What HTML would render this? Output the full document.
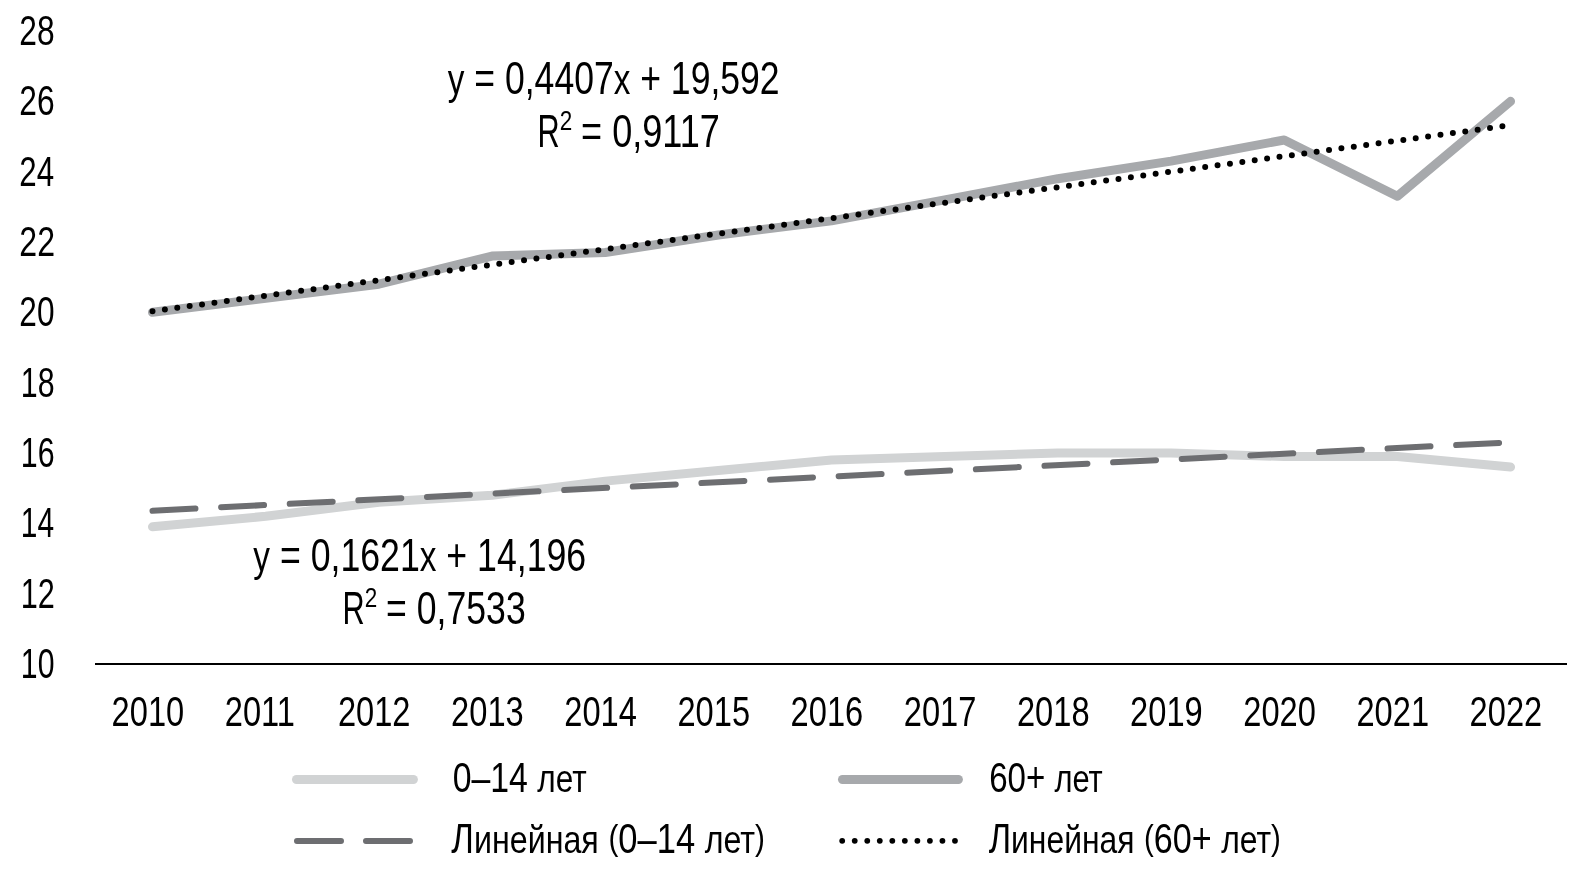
<!DOCTYPE html>
<html lang="ru"><head><meta charset="utf-8"><title>Доля возрастных групп, 2010–2022</title>
<style>html,body{margin:0;padding:0;background:#fff;width:1588px;height:896px;overflow:hidden}
svg{display:block;will-change:transform} text{font-family:"Liberation Sans",Arial,sans-serif;fill:#000}</style></head>
<body><svg width="1588" height="896" viewBox="0 0 1588 896">
<rect width="1588" height="896" fill="#fff"/>
<rect x="95" y="663" width="1472" height="2" fill="#000"/>
<path d="M152.50,526.85 L265.67,516.30 L378.84,502.23 L492.01,495.20 L605.18,481.13 L718.35,470.58 L831.52,460.03 L944.69,456.52 L1057.86,453.00 L1171.03,453.00 L1284.20,456.52 L1397.37,456.52 L1510.54,467.07" fill="none" stroke="#D1D3D4" stroke-width="9" stroke-linecap="round" stroke-linejoin="round"/>
<path d="M152.50,312.33 L265.67,298.27 L378.84,284.20 L492.01,256.07 L605.18,252.55 L718.35,234.97 L831.52,220.90 L944.69,199.80 L1057.86,178.70 L1171.03,161.12 L1284.20,140.02 L1397.37,196.28 L1510.54,101.33" fill="none" stroke="#A7A9AC" stroke-width="9" stroke-linecap="round" stroke-linejoin="round"/>
<line x1="152.50" y1="510.74" x2="1510.54" y2="442.33" stroke="#6D6E71" stroke-width="6" stroke-dasharray="43 25.7" stroke-linecap="round"/>
<line x1="152.50" y1="311.18" x2="1510.54" y2="125.21" stroke="#000" stroke-width="6" stroke-dasharray="0 12.5" stroke-linecap="round"/>
<line x1="296.5" y1="779.5" x2="413.4" y2="779.5" stroke="#D1D3D4" stroke-width="9" stroke-linecap="round"/>
<line x1="842.5" y1="779.5" x2="958.4" y2="779.5" stroke="#A7A9AC" stroke-width="9" stroke-linecap="round"/>
<path d="M297,841H341M366,841H410" stroke="#6D6E71" stroke-width="6" stroke-linecap="round"/>
<g fill="#000"><circle cx="842.20" cy="840.8" r="2.9"/><circle cx="854.73" cy="840.8" r="2.9"/><circle cx="867.26" cy="840.8" r="2.9"/><circle cx="879.79" cy="840.8" r="2.9"/><circle cx="892.32" cy="840.8" r="2.9"/><circle cx="904.85" cy="840.8" r="2.9"/><circle cx="917.38" cy="840.8" r="2.9"/><circle cx="929.91" cy="840.8" r="2.9"/><circle cx="942.44" cy="840.8" r="2.9"/><circle cx="954.97" cy="840.8" r="2.9"/></g>
<text transform="matrix(0.7599 0 0 1 19.31 45.00)" font-size="41.8">28</text>
<text transform="matrix(0.7599 0 0 1 19.31 115.00)" font-size="41.8">26</text>
<text transform="matrix(0.7489 0 0 1 19.33 186.00)" font-size="41.8">24</text>
<text transform="matrix(0.7674 0 0 1 19.30 256.00)" font-size="41.8">22</text>
<text transform="matrix(0.7562 0 0 1 19.32 326.00)" font-size="41.8">20</text>
<text transform="matrix(0.7261 0 0 1 20.82 397.00)" font-size="41.8">18</text>
<text transform="matrix(0.7261 0 0 1 20.82 467.00)" font-size="41.8">16</text>
<text transform="matrix(0.7153 0 0 1 20.86 537.00)" font-size="41.8">14</text>
<text transform="matrix(0.7335 0 0 1 20.80 608.00)" font-size="41.8">12</text>
<text transform="matrix(0.7225 0 0 1 20.84 678.00)" font-size="41.8">10</text>
<text transform="matrix(0.7730 0 0 1 447.82 94.00)" font-size="46"><tspan font-size="93.5%">y</tspan> = 0,4407<tspan font-size="93.5%">x</tspan> + 19,592</text>
<text transform="matrix(0.6680 0 0 1 537.48 147.00)" font-size="46">R</text>
<text transform="matrix(0.8176 0 0 1 559.82 130.00)" font-size="27.5">2</text>
<text transform="matrix(0.7845 0 0 1 581.10 147.00)" font-size="46">= 0,9117</text>
<text transform="matrix(0.7756 0 0 1 253.32 571.00)" font-size="46"><tspan font-size="93.5%">y</tspan> = 0,1621<tspan font-size="93.5%">x</tspan> + 14,196</text>
<text transform="matrix(0.6680 0 0 1 342.48 624.00)" font-size="46">R</text>
<text transform="matrix(0.8176 0 0 1 364.82 607.00)" font-size="27.5">2</text>
<text transform="matrix(0.7741 0 0 1 386.12 624.00)" font-size="46">= 0,7533</text>
<text transform="matrix(0.8093 0 0 1 452.65 792.00)" font-size="41.8">0–14 <tspan font-size="93.3%">лет</tspan></text>
<text transform="matrix(0.7915 0 0 1 989.15 792.00)" font-size="41.8">60+ <tspan font-size="93.3%">лет</tspan></text>
<text transform="matrix(0.8260 0 0 1 451.35 853.00)" font-size="41.8">Л<tspan font-size="93.3%">инейная</tspan> <tspan font-size="86%" dy="-0.0944em">(</tspan><tspan dy="0.0813em">0–14 <tspan font-size="93.3%">лет</tspan></tspan><tspan font-size="86%" dy="-0.0944em">)</tspan></text>
<text transform="matrix(0.8170 0 0 1 988.66 853.00)" font-size="41.8">Л<tspan font-size="93.3%">инейная</tspan> <tspan font-size="86%" dy="-0.0944em">(</tspan><tspan dy="0.0813em">60+ <tspan font-size="93.3%">лет</tspan></tspan><tspan font-size="86%" dy="-0.0944em">)</tspan></text>
<text transform="matrix(0.7810 0 0 1 111.57 726.00)" font-size="41.8">2010</text>
<text transform="matrix(0.7810 0 0 1 224.74 726.00)" font-size="41.8">2011</text>
<text transform="matrix(0.7810 0 0 1 337.91 726.00)" font-size="41.8">2012</text>
<text transform="matrix(0.7810 0 0 1 451.08 726.00)" font-size="41.8">2013</text>
<text transform="matrix(0.7810 0 0 1 564.25 726.00)" font-size="41.8">2014</text>
<text transform="matrix(0.7810 0 0 1 677.42 726.00)" font-size="41.8">2015</text>
<text transform="matrix(0.7810 0 0 1 790.59 726.00)" font-size="41.8">2016</text>
<text transform="matrix(0.7810 0 0 1 903.76 726.00)" font-size="41.8">2017</text>
<text transform="matrix(0.7810 0 0 1 1016.93 726.00)" font-size="41.8">2018</text>
<text transform="matrix(0.7810 0 0 1 1130.10 726.00)" font-size="41.8">2019</text>
<text transform="matrix(0.7810 0 0 1 1243.27 726.00)" font-size="41.8">2020</text>
<text transform="matrix(0.7810 0 0 1 1356.44 726.00)" font-size="41.8">2021</text>
<text transform="matrix(0.7810 0 0 1 1469.61 726.00)" font-size="41.8">2022</text>
</svg></body></html>
